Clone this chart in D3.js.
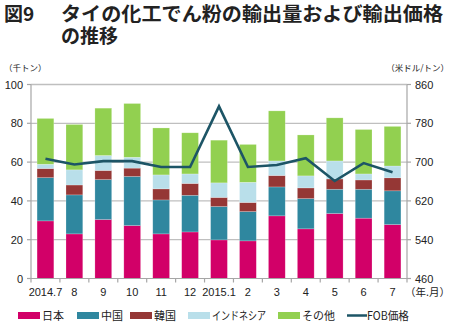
<!DOCTYPE html>
<html><head><meta charset="utf-8">
<script src="https://cdn.jsdelivr.net/npm/d3@7/dist/d3.min.js"></script>
<style>
body{margin:0;background:#fff;}
svg{display:block;}
text{font-family:"Liberation Sans","Noto Sans CJK JP",sans-serif;fill:#222;}
.jp{font-family:"Noto Sans CJK JP",sans-serif;}
</style></head><body>
<svg id="c" width="450" height="328"></svg>
<script>
const categories = ["2014.7","8","9","10","11","12","2015.1","2","3","4","5","6","7"];
const japan     = [29.7,23.0,30.4,27.3,23.0,24.0,19.9,19.4,32.3,25.6,33.5,31.1,27.8];
const china     = [22.3,20.1,20.6,25.3,17.5,18.9,17.2,15.1,14.9,15.6,12.5,14.9,17.4];
const korea     = [4.7,5.1,4.7,4.3,5.7,6.1,4.7,4.7,5.9,5.5,5.3,4.8,6.7];
const indonesia = [2.2,7.8,7.7,5.6,7.2,4.9,7.5,10.4,7.5,6.2,9.3,3.1,6.1];
const other     = [23.6,23.4,24.4,27.7,24.2,21.2,22.0,19.5,25.8,21.1,22.2,22.9,20.4];
const fob       = [707,695,702,702,690,690,815,690,694,708,661,698,679];
const leftTicks  = [0,20,40,60,80,100];
const rightTicks = [460,540,620,700,780,860];
const seriesNames = ["日本","中国","韓国","インドネシア","その他"];
const seriesColors = ["#d20068","#2f879f","#953735","#b9dfea","#92d050"];
const lineName = "FOB価格";
const lineColor = "#1d5566";

const svg = d3.select("#c");
const L=31, R=407, T=84.5, B=278.5;
const x = d3.scaleBand().domain(categories).range([L,R]).paddingInner(0.42).paddingOuter(0.21);
const xb = d3.scaleBand().domain(categories).range([L,R]);
const y = d3.scaleLinear().domain([0,100]).range([B,T]);
const y2 = d3.scaleLinear().domain([460,860]).range([B,T]);

// title (one text element, two lines)
const title = svg.append("text").attr("class","jp").attr("font-size",19).attr("font-weight","bold");
title.append("tspan").attr("x",4).attr("y",21).text("図9");
title.append("tspan").attr("x",61).attr("y",21).attr("textLength",382).attr("lengthAdjust","spacingAndGlyphs").text("タイの化工でん粉の輸出量および輸出価格");
title.append("tspan").attr("x",61).attr("y",43).text("の推移");
svg.append("text").attr("class","jp").attr("x",4).attr("y",71).attr("font-size",8.5).text("（千トン）");
svg.append("text").attr("class","jp").attr("x",449).attr("y",71).attr("text-anchor","end").attr("font-size",8.5).text("（米ドル/トン）");

// gridlines
svg.append("g").selectAll("line").data(leftTicks.filter(d=>d>0)).join("line")
  .attr("x1",L).attr("x2",R).attr("y1",d=>y(d)).attr("y2",d=>y(d))
  .attr("stroke","#bfbfbf").attr("stroke-width",1.3);

// bars
const stackData = categories.map((c,i)=>({c, s0:japan[i], s1:china[i], s2:korea[i], s3:indonesia[i], s4:other[i]}));
const stack = d3.stack().keys(["s0","s1","s2","s3","s4"])(stackData);
svg.append("g").selectAll("g").data(stack).join("g").attr("fill",(d,i)=>seriesColors[i])
  .selectAll("rect").data(d=>d).join("rect")
  .attr("x",d=>x(d.data.c)).attr("width",x.bandwidth())
  .attr("y",d=>y(d[1])).attr("height",d=>y(d[0])-y(d[1]))
  .attr("stroke","rgba(255,255,255,0.35)").attr("stroke-width",0.6);

// axes
const ax = svg.append("g").attr("stroke","#a6a6a6").attr("stroke-width",1.2);
ax.append("line").attr("x1",L).attr("x2",L).attr("y1",T).attr("y2",B);
ax.append("line").attr("x1",R).attr("x2",R).attr("y1",T).attr("y2",B);
ax.append("line").attr("x1",L).attr("x2",R).attr("y1",B).attr("y2",B);
ax.selectAll(".lt").data(leftTicks).join("line").attr("x1",L-4).attr("x2",L).attr("y1",d=>y(d)).attr("y2",d=>y(d));
ax.selectAll(".rt").data(rightTicks).join("line").attr("x1",R).attr("x2",R+4).attr("y1",d=>y2(d)).attr("y2",d=>y2(d));
ax.selectAll(".bt").data(categories.concat(["_end"])).join("line")
  .attr("x1",(d,i)=>L+i*xb.step()).attr("x2",(d,i)=>L+i*xb.step()).attr("y1",B).attr("y2",B+4);

svg.append("g").selectAll("text").data(leftTicks).join("text")
  .attr("x",L-8).attr("y",d=>y(d)+4).attr("text-anchor","end").attr("font-size",11).text(d=>d);
svg.append("g").selectAll("text").data(rightTicks).join("text")
  .attr("x",R+8).attr("y",d=>y2(d)+4).attr("font-size",11).text(d=>d);
svg.append("g").selectAll("text").data(categories).join("text")
  .attr("x",d=>xb(d)+xb.bandwidth()/2).attr("y",296).attr("text-anchor","middle").attr("font-size",11).text(d=>d);
svg.append("text").attr("class","jp").attr("x",405).attr("y",296).attr("font-size",10.5).text("（年.月）");

// line
svg.append("path").datum(fob).attr("fill","none").attr("stroke",lineColor).attr("stroke-width",2.6)
  .attr("d",d3.line().x((d,i)=>xb(categories[i])+xb.bandwidth()/2).y(d=>y2(d)));

// legend
const lx = [18,77,130,188,278];
const lw = [22,22,22,54,33];
const lg = svg.append("g");
seriesNames.forEach((n,i)=>{
  lg.append("rect").attr("x",lx[i]).attr("y",312).attr("width",22).attr("height",7).attr("fill",seriesColors[i]);
  lg.append("text").attr("class","jp").attr("x",lx[i]+24).attr("y",320).attr("font-size",11.5)
    .attr("textLength",lw[i]).attr("lengthAdjust","spacingAndGlyphs").text(n);
});
lg.append("line").attr("x1",347).attr("x2",367).attr("y1",315.5).attr("y2",315.5).attr("stroke",lineColor).attr("stroke-width",2.5);
lg.append("text").attr("class","jp").attr("x",367).attr("y",320).attr("font-size",11.5)
  .attr("textLength",42).attr("lengthAdjust","spacingAndGlyphs").text(lineName);
</script>
</body></html>
